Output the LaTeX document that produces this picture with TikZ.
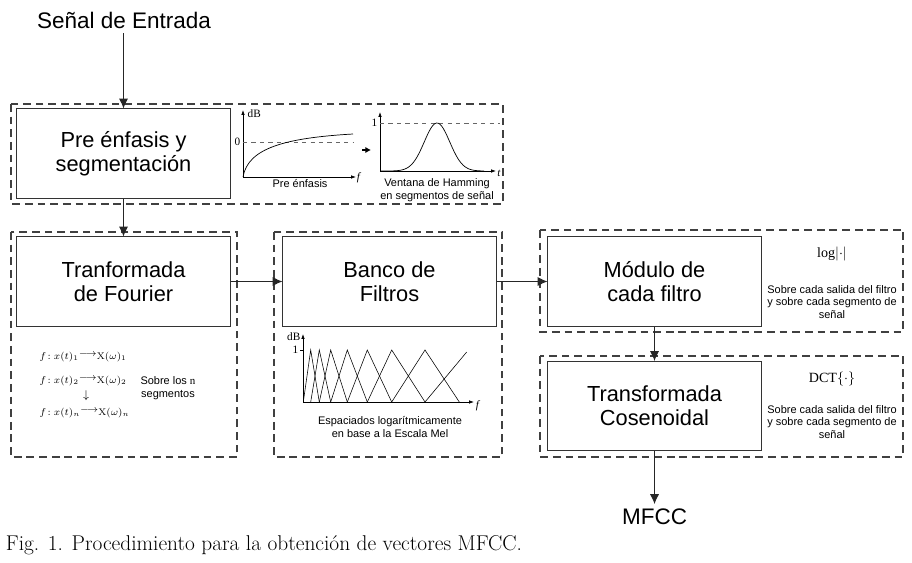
\documentclass[tikz,border=0pt]{standalone}
\usepackage{amsmath}
\usepackage{amssymb}
\usepackage{fontspec}
\setsansfont{Liberation Sans}
\newfontfamily\tnr{Liberation Serif}
\usetikzlibrary{arrows.meta}

\newcommand{\ecfourier}[1]{$f\!: x(t)_{#1}\raisebox{0.7ex}{$\longrightarrow$}\mathrm{X}(\omega)_{#1}$}

\tikzset{
	bloque/.style={draw=black!80, line width=0.7pt, minimum width=5.325cm, minimum height=2.225cm, align=center, font=\sffamily\fontsize{15.5}{17}\selectfont},
	grupo/.style={draw=black!75, line width=0.9pt, dash pattern=on 5.5pt off 3.5pt},
	flecha/.style={draw=black!85, line width=0.7pt, -{Latex[length=7pt,width=6.5pt]}},
	eje/.style={line width=0.5pt, -{Latex[length=3.5pt,width=2.5pt]}},
	nota/.style={align=center, font=\sffamily\fontsize{7.8}{8.9}\selectfont},
	rotulo/.style={font=\tnr\fontsize{8}{9}\selectfont, inner sep=1pt},
	titulo/.style={font=\sffamily\fontsize{16}{18}\selectfont},
}

\begin{document}
\begin{tikzpicture}[x=0.025cm, y=-0.025cm]
	\useasboundingbox (0,0) rectangle (912,563);
	%\draw[help lines] (0,0) grid[step=50] (912,563);
	% grupos
	\draw[grupo] (11,104) rectangle (503,204);
	\draw[grupo] (11,232) rectangle (237,457);
	\draw[grupo] (274,232) rectangle (502,457);
	\draw[grupo] (540,230) rectangle (903,332);
	\draw[grupo] (540,356) rectangle (903,457);
	% bloques
	\node[titulo] (entrada) at (124,20) {Señal de Entrada};
	\node[bloque] (pre) at (123.5,153.5) {Pre énfasis y\\segmentación};
	\node[bloque] (fourier) at (123.5,281.5) {Tranformada\\de Fourier};
	\node[bloque] (banco) at (389.5,281.5) {Banco de\\Filtros};
	\node[bloque] (modulo) at (654.5,281.5) {Módulo de\\cada filtro};
	\node[bloque] (coseno) at (654.5,406) {Transformada\\Cosenoidal};
	\node[titulo] (mfcc) at (654.5,517) {MFCC};
	\draw[flecha] (entrada.south -| pre.north) -- (pre.north);
	\draw[flecha] (pre.south) -- (fourier.north);
	\draw[flecha] (fourier.east) -- (banco.west);
	\draw[flecha] (banco.east) -- (modulo.west);
	\draw[flecha] (modulo.south) -- (coseno.north);
	\draw[flecha] (coseno.south) -- (mfcc.north);
	% pre enfasis
	\draw[eje] (243,177) -- (243,110);
	\draw[eje] (243,177) -- (356,177);
	\draw[dashed, black!60] (243,142) -- (353,142);
	\node[rotulo, anchor=west] at (246,114) {dB};
	\node[rotulo, anchor=east] at (242,142) {0};
	\node[rotulo] at (359,178) {\textit{f}};
	\draw[line width=0.5pt] (243,177) .. controls (248,148) and (285,138) .. (353,134);
	\node[nota] at (300,184) {Pre énfasis};
	\draw[-{Latex[length=4pt,width=4.5pt]}, line width=1.5pt] (362,150) -- (371,150);
	% hamming
	\draw[eje] (380,171) -- (380,112);
	\draw[eje] (380,171) -- (496,171);
	\draw[dashed, black!60] (380,123) -- (500,123);
	\node[rotulo, anchor=east] at (379,123) {1};
	\node[rotulo] at (499,173) {\textit{t}};
	\draw[line width=0.5pt] plot[domain=380:484, samples=60] (\x, {171-48*exp(-((\x-437)/18)^2)});
	\node[nota] at (437,190) {Ventana de Hamming\\en segmentos de señal};
	% fourier
	\node[rotulo, anchor=west, font=\fontsize{6.8}{8}\selectfont] at (38,357) {\ecfourier{1}};
	\node[rotulo, anchor=west, font=\fontsize{6.8}{8}\selectfont] at (38,381) {\ecfourier{2}};
	\node[rotulo] at (86,396) {$\downarrow$};
	\node[rotulo, anchor=west, font=\fontsize{6.8}{8}\selectfont] at (38,413) {\ecfourier{n}};
	\node[nota] at (168,388) {Sobre los {\tnr n}\\segmentos};
	% banco mel
	\draw[eje] (303,402) -- (303,334);
	\draw[eje] (303,402) -- (474,402);
	\draw (300,350) -- (303,350);
	\node[rotulo, anchor=east] at (302,337) {dB};
	\node[rotulo, anchor=east] at (300,350) {1};
	\node[rotulo] at (478,406) {\textit{f}};
	\draw[line width=0.4pt] (303.3,402) -- (310.7,350) -- (319.3,402);
	\draw[line width=0.4pt] (310.7,402) -- (319.3,350) -- (330.7,402);
	\draw[line width=0.4pt] (319.3,402) -- (330.7,350) -- (347.3,402);
	\draw[line width=0.4pt] (330.7,402) -- (347.3,350) -- (367.3,402);
	\draw[line width=0.4pt] (347.3,402) -- (367.3,350) -- (391.7,402);
	\draw[line width=0.4pt] (367.3,402) -- (391.7,350) -- (425,402);
	\draw[line width=0.4pt] (391.7,402) -- (425,350) -- (459.3,402);
	\draw[line width=0.4pt] (425,402) -- (466.7,352);
	\node[nota] at (390,427) {Espaciados logarítmicamente\\en base a la Escala Mel};
	% modulo y coseno
	\node[font=\tnr\fontsize{10}{12}\selectfont] at (832,254) {log$|{\cdot}|$};
	\node[nota] at (832,302) {Sobre cada salida del filtro\\y sobre cada segmento de\\señal};
	\node[font=\tnr\fontsize{10}{12}\selectfont] at (832,379) {DCT$\{{\cdot}\}$};
	\node[nota] at (832,422) {Sobre cada salida del filtro\\y sobre cada segmento de\\señal};
	% pie
	\node[anchor=west, font=\fontsize{15.2}{17}\selectfont] (pie) at (1,545) {Fig. 1. Procedimiento para la obtención de vectores MFCC.};
\end{tikzpicture}
\end{document}
